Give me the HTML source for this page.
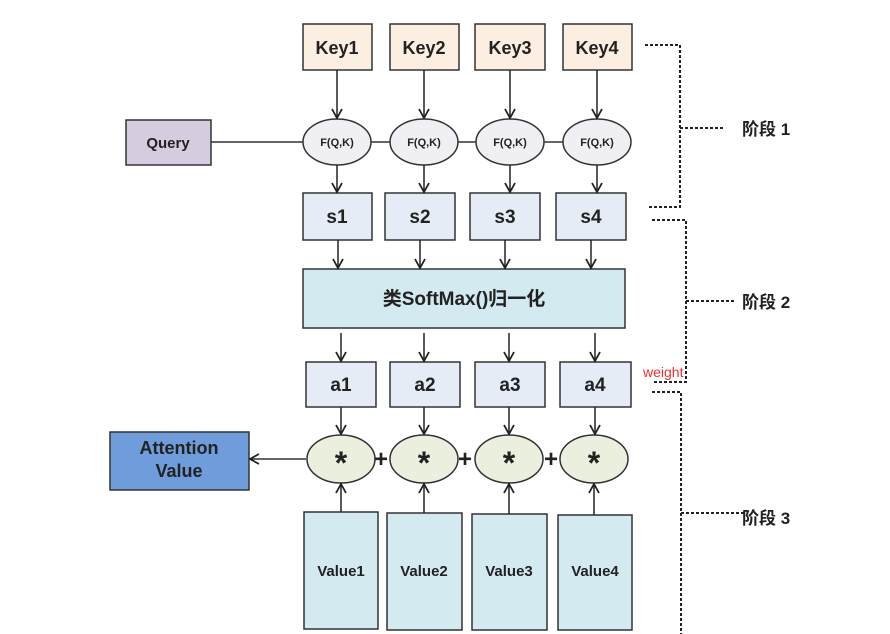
<!DOCTYPE html>
<html><head><meta charset="utf-8"><style>
html,body{margin:0;padding:0;background:#fff;}
svg{display:block;}
text{font-family:"Liberation Sans","Noto Sans CJK SC",sans-serif;font-weight:bold;fill:#222;}
</style></head><body>
<svg width="890" height="634" viewBox="0 0 890 634" xmlns="http://www.w3.org/2000/svg">
<defs>
<marker id="a" markerWidth="12" markerHeight="12" refX="10" refY="6" orient="auto" markerUnits="userSpaceOnUse">
<path d="M1,1 L10,6 L1,11" fill="none" stroke="#222" stroke-width="1.8"/>
</marker>
</defs>
<g stroke="#333" stroke-width="1.5">
<rect x="303" y="24" width="69" height="46" fill="#fdeee2"/>
<rect x="390" y="24" width="69" height="46" fill="#fdeee2"/>
<rect x="475" y="24" width="70" height="46" fill="#fdeee2"/>
<rect x="563" y="24" width="69" height="46" fill="#fdeee2"/>
<rect x="126" y="120" width="85" height="45" fill="#d5cce0"/>
<line x1="211" y1="142" x2="563" y2="142"/>
<ellipse cx="337" cy="142" rx="34" ry="23" fill="#f0eff4"/>
<ellipse cx="424" cy="142" rx="34" ry="23" fill="#f0eff4"/>
<ellipse cx="510" cy="142" rx="34" ry="23" fill="#f0eff4"/>
<ellipse cx="597" cy="142" rx="34" ry="23" fill="#f0eff4"/>
<rect x="303" y="193" width="69" height="47" fill="#e5ecf6"/>
<rect x="385" y="193" width="70" height="47" fill="#e5ecf6"/>
<rect x="470" y="193" width="70" height="47" fill="#e5ecf6"/>
<rect x="556" y="193" width="70" height="47" fill="#e5ecf6"/>
<rect x="303" y="269" width="322" height="59" fill="#d3eaf0"/>
<rect x="306" y="362" width="70" height="45" fill="#e5ecf6"/>
<rect x="390" y="362" width="70" height="45" fill="#e5ecf6"/>
<rect x="475" y="362" width="70" height="45" fill="#e5ecf6"/>
<rect x="560" y="362" width="71" height="45" fill="#e5ecf6"/>
<rect x="110" y="432" width="139" height="58" fill="#6f9ddb"/>
<line x1="306" y1="459" x2="250" y2="459" marker-end="url(#a)"/>
<ellipse cx="341" cy="459" rx="34" ry="24" fill="#ebf0de"/>
<ellipse cx="424" cy="459" rx="34" ry="24" fill="#ebf0de"/>
<ellipse cx="509" cy="459" rx="34" ry="24" fill="#ebf0de"/>
<ellipse cx="594" cy="459" rx="34" ry="24" fill="#ebf0de"/>
<rect x="304" y="512" width="74" height="117" fill="#d3eaf0"/>
<rect x="387" y="513" width="75" height="117" fill="#d3eaf0"/>
<rect x="472" y="514" width="75" height="116" fill="#d3eaf0"/>
<rect x="558" y="515" width="74" height="115" fill="#d3eaf0"/>
</g>
<g stroke="#222" stroke-width="1.5" fill="none">
<line x1="337" y1="70" x2="337" y2="118" marker-end="url(#a)"/>
<line x1="424" y1="70" x2="424" y2="118" marker-end="url(#a)"/>
<line x1="510" y1="70" x2="510" y2="118" marker-end="url(#a)"/>
<line x1="597" y1="70" x2="597" y2="118" marker-end="url(#a)"/>
<line x1="337" y1="165" x2="337" y2="192" marker-end="url(#a)"/>
<line x1="424" y1="165" x2="424" y2="192" marker-end="url(#a)"/>
<line x1="510" y1="165" x2="510" y2="192" marker-end="url(#a)"/>
<line x1="597" y1="165" x2="597" y2="192" marker-end="url(#a)"/>
<line x1="338" y1="240" x2="338" y2="268" marker-end="url(#a)"/>
<line x1="420" y1="240" x2="420" y2="268" marker-end="url(#a)"/>
<line x1="505" y1="240" x2="505" y2="268" marker-end="url(#a)"/>
<line x1="591" y1="240" x2="591" y2="268" marker-end="url(#a)"/>
<line x1="341" y1="333" x2="341" y2="361" marker-end="url(#a)"/>
<line x1="424" y1="333" x2="424" y2="361" marker-end="url(#a)"/>
<line x1="509" y1="333" x2="509" y2="361" marker-end="url(#a)"/>
<line x1="595" y1="333" x2="595" y2="361" marker-end="url(#a)"/>
<line x1="341" y1="407" x2="341" y2="434" marker-end="url(#a)"/>
<line x1="424" y1="407" x2="424" y2="434" marker-end="url(#a)"/>
<line x1="509" y1="407" x2="509" y2="434" marker-end="url(#a)"/>
<line x1="595" y1="407" x2="595" y2="434" marker-end="url(#a)"/>
<line x1="341" y1="512" x2="341" y2="484" marker-end="url(#a)"/>
<line x1="424" y1="513" x2="424" y2="484" marker-end="url(#a)"/>
<line x1="509" y1="514" x2="509" y2="484" marker-end="url(#a)"/>
<line x1="594" y1="515" x2="594" y2="484" marker-end="url(#a)"/>
</g>
<g stroke="#222" stroke-width="2" stroke-dasharray="3,2" fill="none">
<polyline points="645,45 680,45 680,207 648,207"/>
<line x1="680" y1="128" x2="725" y2="128"/>
<polyline points="652,220 686,220 686,382 652,382"/>
<line x1="686" y1="301" x2="735" y2="301"/>
<polyline points="652,392 681,392 681,634"/>
<line x1="681" y1="513" x2="745" y2="513"/>
</g>
<g text-anchor="middle">
<text x="337" y="54" font-size="18">Key1</text>
<text x="424" y="54" font-size="18">Key2</text>
<text x="510" y="54" font-size="18">Key3</text>
<text x="597" y="54" font-size="18">Key4</text>
<text x="168" y="148" font-size="15">Query</text>
<text x="337" y="146" font-size="11">F(Q,K)</text>
<text x="424" y="146" font-size="11">F(Q,K)</text>
<text x="510" y="146" font-size="11">F(Q,K)</text>
<text x="597" y="146" font-size="11">F(Q,K)</text>
<text x="337" y="223" font-size="19">s1</text>
<text x="420" y="223" font-size="19">s2</text>
<text x="505" y="223" font-size="19">s3</text>
<text x="591" y="223" font-size="19">s4</text>
<text x="464" y="305" font-size="19">类SoftMax()归一化</text>
<text x="341" y="391" font-size="19">a1</text>
<text x="425" y="391" font-size="19">a2</text>
<text x="510" y="391" font-size="19">a3</text>
<text x="595" y="391" font-size="19">a4</text>
<text x="179" y="454" font-size="18">Attention</text>
<text x="179" y="477" font-size="18">Value</text>
<text x="341" y="474" font-size="32">*</text>
<text x="424" y="474" font-size="32">*</text>
<text x="509" y="474" font-size="32">*</text>
<text x="594" y="474" font-size="32">*</text>
<text x="381" y="467" font-size="24">+</text>
<text x="465" y="467" font-size="24">+</text>
<text x="551" y="467" font-size="24">+</text>
<text x="341" y="576" font-size="15">Value1</text>
<text x="424" y="576" font-size="15">Value2</text>
<text x="509" y="576" font-size="15">Value3</text>
<text x="595" y="576" font-size="15">Value4</text>
</g>
<text x="742" y="135" font-size="17">阶段 1</text>
<text x="742" y="308" font-size="17">阶段 2</text>
<text x="742" y="524" font-size="17">阶段 3</text>
<text x="643" y="377" font-size="14" style="font-weight:normal;fill:#f03030">weight</text>
</svg>
</body></html>
